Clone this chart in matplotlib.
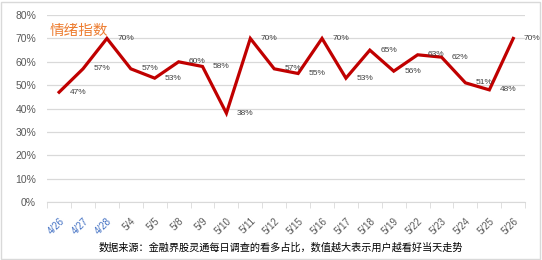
import numpy as np
import matplotlib.pyplot as plt
from matplotlib.patches import Rectangle

plt.rcParams['font.family'] = ['Liberation Sans', 'Noto Sans CJK SC', 'DejaVu Sans']

dates = ['4/26', '4/27', '4/28', '5/4', '5/5', '5/8', '5/9', '5/10', '5/11', '5/12',
         '5/15', '5/16', '5/17', '5/18', '5/19', '5/22', '5/23', '5/24', '5/25', '5/26']
values = [47, 57, 70, 57, 53, 60, 58, 38, 70, 57,
          55, 70, 53, 65, 56, 63, 62, 51, 48, 70]
blue_dates = ['4/26', '4/27', '4/28']

fig = plt.figure(figsize=(5.42, 2.6), dpi=100)
ax = fig.add_axes([0.087, 0.223, 0.882, 0.719])

x = np.arange(len(dates))
ax.plot(x, values, color='#C00000', linewidth=2.3, solid_joinstyle='miter', zorder=3)
for xi, v in zip(x, values):
    ax.annotate(f'{v}%', (xi, v), xytext=(7.5, 0), textcoords='offset points',
                ha='left', va='center', fontsize=6, color='#404040')

ax.set_xlim(-0.5, len(dates) - 0.5)
ax.set_ylim(0, 80)
ax.set_yticks(np.arange(0, 81, 10))
ax.set_yticklabels([f'{t}%' for t in range(0, 81, 10)], fontsize=7.5, color='#595959')
ax.yaxis.grid(True, color='#D9D9D9', linewidth=0.9)
ax.set_axisbelow(True)
ax.tick_params(axis='y', length=0, pad=8)

# category tick marks between labels
ax.set_xticks(np.arange(-0.5, len(dates), 1), minor=True)
ax.set_xticks(x)
ax.set_xticklabels(dates, rotation=45, ha='right', rotation_mode='anchor', fontsize=7)
for lbl in ax.get_xticklabels():
    lbl.set_color('#4472C4' if lbl.get_text() in blue_dates else '#595959')
ax.tick_params(axis='x', which='major', length=0, pad=10)
ax.tick_params(axis='x', which='minor', length=4, color='#D9D9D9')

for s in ['top', 'right', 'left']:
    ax.spines[s].set_visible(False)
ax.spines['bottom'].set_color('#D9D9D9')

ax.text(0.005, 0.955, '情绪指数', transform=ax.transAxes, fontsize=10.5,
        color='#ED7D31', ha='left', va='top')

fig.text(0.518, 0.048, '数据来源：金融界股灵通每日调查的看多占比，数值越大表示用户越看好当天走势',
         fontsize=7.3, color='#000000', ha='center', va='center')

fig.patches.append(Rectangle((0.002, 0.004), 0.995, 0.99, transform=fig.transFigure,
                             fill=False, edgecolor='#D9D9D9', linewidth=1))

fig.savefig('out.png', dpi=100)
